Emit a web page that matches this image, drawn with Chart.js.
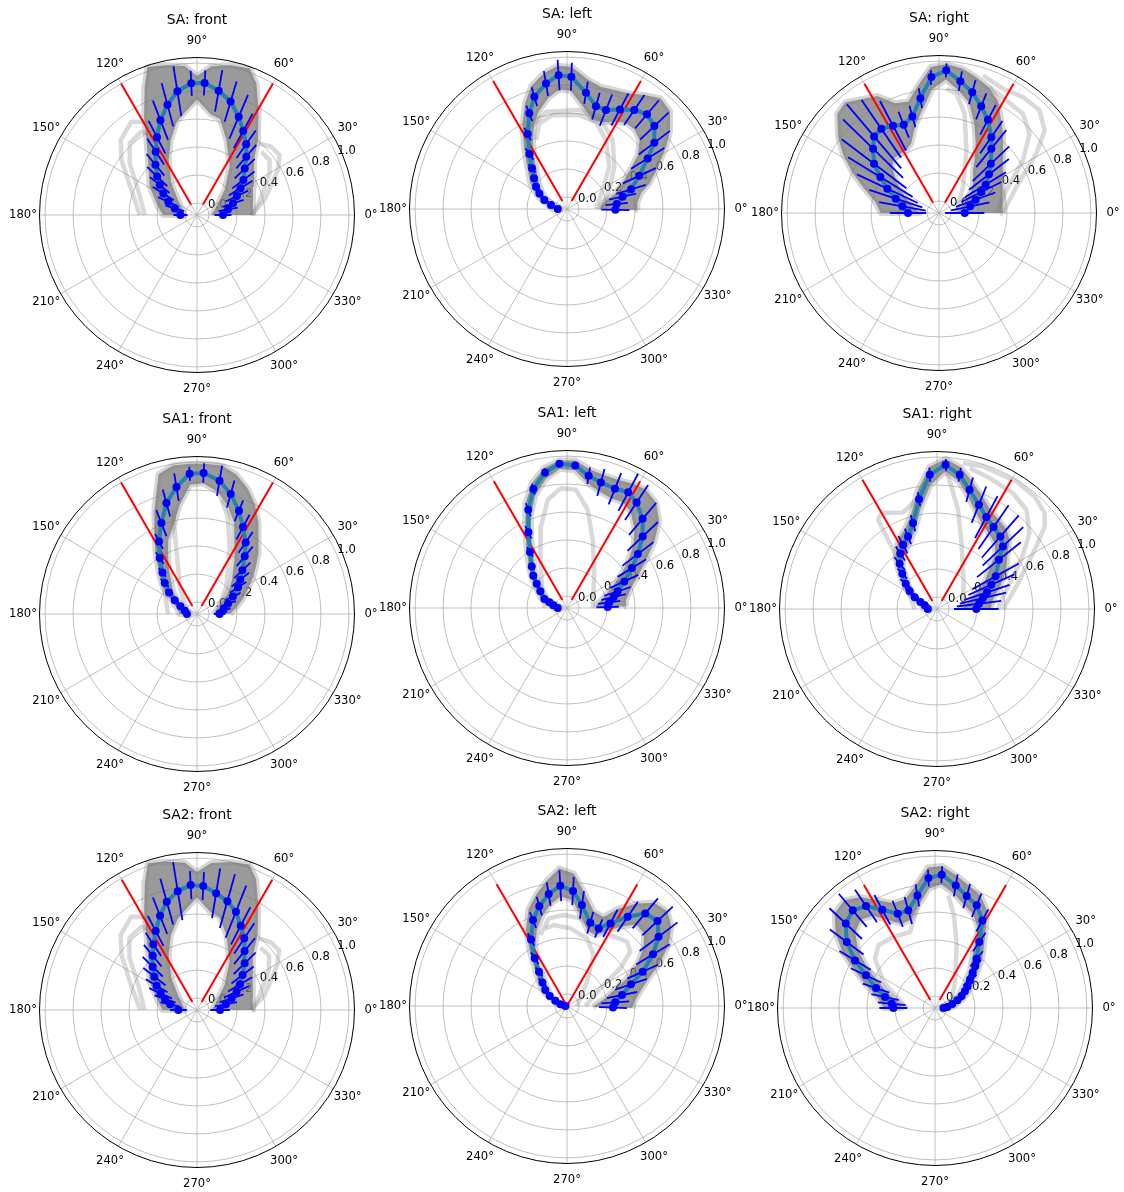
<!DOCTYPE html>
<html><head><meta charset="utf-8">
<script src="https://cdn.jsdelivr.net/npm/chart.js"></script>
<style>
html,body{margin:0;padding:0;background:#fff;overflow:hidden;}
#wrap{position:relative;width:1124px;height:1192px;overflow:hidden;}
canvas{position:absolute;}
</style></head><body><div id="wrap"></div>
<script>
// ---------- axis ticks ----------
const thetaTicks = [0,30,60,90,120,150,180,210,240,270,300,330];
const rTicks = [0,0.2,0.4,0.6,0.8,1.0];
const rTickLabels = ['0.0','0.2','0.4','0.6','0.8','1.0'];
const rLabelAngle = 22.5;
const refAngles = [60,120];
const titles = ['SA: front','SA: left','SA: right','SA1: front','SA1: left','SA1: right','SA2: front','SA2: left','SA2: right'];

// ---------- SA: front ----------
const SA_front_theta = [0,10.4,18,25.4,31.6,37.1,44.2,49.8,55.2,61.2,67,73.5,80.1,86.7,92.5,99,105,111.1,117.2,123.1,129.6,136,141.2,147.5,155.3,163.4,180];
const SA_front_r = [0.10,0.14,0.185,0.23,0.28,0.33,0.39,0.46,0.53,0.60,0.677,0.76,0.815,0.86,0.856,0.81,0.73,0.64,0.54,0.455,0.38,0.31,0.256,0.20,0.14,0.08,0.033];
const SA_front_err = [0.06,0.07,0.08,0.09,0.1,0.1,0.1,0.11,0.12,0.14,0.17,0.15,0.15,0.09,0.09,0.18,0.16,0.15,0.13,0.11,0.1,0.1,0.09,0.09,0.08,0.07,0.05];
const SA_front_outerTheta = [0,26.8,44,50.9,59.6,65.7,70.2,77.1,84.5,90,94.7,102.2,108.5,112.2,118.3,124,131.7,149.1,167.9,180];
const SA_front_outerR = [0.314,0.363,0.48,0.605,0.784,0.946,1.027,1.013,0.983,0.907,0.982,1.01,1.03,0.904,0.712,0.56,0.44,0.308,0.2,0.157];
const SA_front_innerTheta = [0,23.3,42.1,55.9,68.6,76.5,82.1,90,98,102,109.3,117.3,129,141.7,180];
const SA_front_innerR = [0.017,0.065,0.18,0.331,0.49,0.62,0.64,0.74,0.64,0.6,0.482,0.356,0.205,0.087,0.0];
const SA_front_tr1Theta = [0,12.5,29.1,36,42.6,49.3];
const SA_front_tr1R = [0.302,0.409,0.576,0.644,0.635,0.59];
const SA_front_tr2Theta = [0,15.9,29.8,37.1,44.5];
const SA_front_tr2R = [0.314,0.392,0.513,0.565,0.559];
const SA_front_tr3Theta = [180,159.2,144,135.5,125.1,116.9];
const SA_front_tr3R = [0.324,0.416,0.582,0.679,0.73,0.662];
const SA_front_tr4Theta = [180,157,142.5,133.2,123.7,121];
const SA_front_tr4R = [0.288,0.372,0.52,0.617,0.63,0.594];
const SA_front_ref = [0.0,1.0];

// ---------- SA: left ----------
const SA_left_theta = [-1,5.7,12.5,17.1,24.7,32.1,37.2,43.5,49.8,55.8,62,68.5,74.3,80.7,88.1,93.6,99.5,106.2,111.5,117.7,124.4,130.7,137.1,144.2,150.5,158.3,166,180];
const SA_left_r = [0.26,0.271,0.321,0.393,0.483,0.595,0.698,0.775,0.80,0.77,0.72,0.674,0.678,0.756,0.86,0.873,0.824,0.75,0.649,0.519,0.39,0.298,0.236,0.187,0.141,0.089,0.032,-0.02];
const SA_left_err = [0.1,0.08,0.1,0.11,0.13,0.14,0.14,0.14,0.13,0.13,0.13,0.12,0.1,0.08,0.1,0.11,0.09,0.07,0.06,0.05,0.05,0.04,0.03,0.03,0.02,0.02,0.02,0.01];
const SA_left_lo = [0.15,0.16,0.2,0.27,0.35,0.45,0.55,0.63,0.66,0.66,0.62,0.58,0.58,0.65,0.76,0.77,0.72,0.64,0.56,0.44,0.32,0.24,0.19,0.14,0.1,0.05,0.0,-0.04];
const SA_left_hi = [0.42,0.42,0.46,0.53,0.63,0.75,0.84,0.93,0.95,0.9,0.85,0.83,0.82,0.85,0.93,0.94,0.9,0.83,0.73,0.6,0.46,0.36,0.29,0.24,0.19,0.13,0.07,0.02];
const SA_left_tr1Theta = [114.2,107.9,98.7,82.5,71.6,60.5,45,28,0];
const SA_left_tr1R = [0.455,0.557,0.594,0.591,0.571,0.48,0.342,0.203,0.121];
const SA_left_tr2Theta = [113.6,102.2,82.9,70.7,56.5,41.8,24.2,0];
const SA_left_tr2R = [0.556,0.625,0.627,0.613,0.505,0.368,0.246,0.157];
const SA_left_ref = [-0.02,0.97];

// ---------- SA: right ----------
const SA_right_theta = [0,12,20,26.4,31.3,37.7,43.5,50.9,55.4,62.3,68.4,74.6,80.8,87.1,93.2,99.2,105.4,111.8,117.8,124.4,130.3,135.7,142.8,148.5,154.8,161.7,169.7,180];
const SA_right_r = [0.098,0.143,0.193,0.252,0.304,0.366,0.426,0.507,0.573,0.667,0.734,0.81,0.869,0.935,0.887,0.746,0.63,0.594,0.619,0.644,0.632,0.573,0.497,0.406,0.322,0.24,0.18,0.136];
const SA_right_err = [0.14,0.14,0.15,0.16,0.17,0.18,0.18,0.17,0.14,0.12,0.1,0.09,0.07,0.05,0.05,0.07,0.08,0.1,0.2,0.25,0.3,0.3,0.29,0.27,0.24,0.2,0.17,0.13];
const SA_right_lo = [0.05,0.07,0.1,0.13,0.17,0.22,0.25,0.3,0.36,0.48,0.6,0.73,0.8,0.87,0.8,0.66,0.56,0.45,0.42,0.42,0.42,0.38,0.3,0.24,0.18,0.13,0.09,0.05];
const SA_right_hi = [0.37,0.38,0.4,0.42,0.45,0.49,0.55,0.64,0.7,0.82,0.88,0.92,0.96,0.98,0.96,0.84,0.74,0.76,0.86,0.9,0.95,0.93,0.82,0.72,0.6,0.48,0.38,0.33];
const SA_right_tr1Theta = [0,18.6,31.4,38,45.6,54.1,62.8,72.3];
const SA_right_tr1R = [0.371,0.497,0.729,0.873,0.941,0.937,0.913,0.947];
const SA_right_tr2Theta = [0,18.6,32.1,41.2,49.8,59.1,68.1];
const SA_right_tr2R = [0.324,0.422,0.622,0.775,0.844,0.852,0.884];
const SA_right_tr3Theta = [0,47.3,66.4,75.5,81.7,86.6];
const SA_right_tr3R = [0.038,0.167,0.403,0.647,0.776,0.804];
const SA_right_ref = [0.0,0.98];

// ---------- SA1: front ----------
const SA1_front_theta = [0,9.2,18.4,26.1,33,38.4,43.9,50.4,55.8,62.1,67.9,74.3,80.4,87.3,93,99.2,105.4,111.4,117.6,123.7,129.8,136.2,142.3,148.5,155.3,164.9,180];
const SA1_front_r = [0.076,0.107,0.148,0.2,0.264,0.309,0.364,0.449,0.533,0.617,0.711,0.805,0.88,0.923,0.918,0.833,0.737,0.612,0.5,0.395,0.301,0.234,0.167,0.101,0.045,0.005,-0.014];
const SA1_front_err = [0.04,0.05,0.06,0.06,0.07,0.08,0.08,0.09,0.09,0.1,0.08,0.1,0.11,0.07,0.05,0.1,0.1,0.1,0.06,0.05,0.04,0.04,0.03,0.03,0.02,0.02,0.02];
const SA1_front_lo = [0.03,0.05,0.08,0.12,0.17,0.21,0.26,0.32,0.39,0.49,0.62,0.72,0.8,0.85,0.84,0.7,0.56,0.48,0.36,0.27,0.2,0.15,0.1,0.05,0.0,-0.03,-0.04];
const SA1_front_hi = [0.15,0.2,0.26,0.32,0.39,0.45,0.52,0.6,0.7,0.8,0.88,0.95,0.99,0.99,0.99,0.99,0.95,0.74,0.57,0.45,0.35,0.28,0.22,0.15,0.1,0.06,0.04];
const SA1_front_tr1Theta = [180,147,127.6,118.7,111.6];
const SA1_front_tr1R = [0.121,0.19,0.344,0.519,0.716];
const SA1_front_tr2Theta = [0,43.3,63.1,72.4,78];
const SA1_front_tr2R = [0.052,0.202,0.43,0.646,0.749];
const SA1_front_tr3Theta = [158,122,107.8,103];
const SA1_front_tr3R = [-0.004,0.147,0.397,0.679];
const SA1_front_ref = [-0.02,1.0];

// ---------- SA1: left ----------
const SA1_left_theta = [1.4,7.6,13.3,18.2,24.9,31.6,37.3,43.4,49.7,56.6,62.1,68.1,74.9,80.7,86.7,93,99.2,105.8,111.5,117,123.5,130.3,136.2,141.3,148,158.3,162.2,169,180];
const SA1_left_r = [0.205,0.219,0.257,0.295,0.366,0.459,0.551,0.659,0.75,0.818,0.85,0.833,0.844,0.872,0.935,0.947,0.896,0.798,0.669,0.521,0.394,0.304,0.248,0.192,0.139,0.089,0.047,0.014,-0.019];
const SA1_left_err = [0.08,0.08,0.09,0.1,0.11,0.12,0.14,0.15,0.15,0.15,0.15,0.12,0.1,0.06,0.02,0.02,0.03,0.04,0.05,0.05,0.04,0.03,0.03,0.02,0.02,0.02,0.02,0.01,0.01];
const SA1_left_lo = [0.12,0.13,0.17,0.2,0.27,0.37,0.46,0.57,0.66,0.74,0.77,0.76,0.78,0.82,0.9,0.91,0.85,0.75,0.62,0.48,0.35,0.27,0.21,0.16,0.1,0.06,0.02,-0.01,-0.04];
const SA1_left_hi = [0.34,0.34,0.37,0.4,0.48,0.58,0.7,0.82,0.9,0.93,0.92,0.9,0.9,0.92,0.97,0.97,0.93,0.84,0.72,0.57,0.44,0.34,0.28,0.23,0.17,0.12,0.08,0.04,0.01];
const SA1_left_tr1Theta = [0,52,69.4,78.1,85.7,92.9,100.1,107.7,118.9,139.1,180];
const SA1_left_tr1R = [0.098,0.231,0.436,0.632,0.762,0.772,0.7,0.526,0.309,0.15,0.076];
const SA1_left_ref = [-0.02,0.96];

// ---------- SA1: right ----------
const SA1_right_theta = [0,7.2,13.4,18.4,24.1,29.1,38.5,43.5,48.9,55.4,61.8,68.1,74.7,80.4,86.6,93.1,99.3,105.6,111.8,117.9,123.5,129.5,134.5,141,147.1,152.4,157.2,163.4,180];
const SA1_right_r = [0.195,0.217,0.252,0.291,0.34,0.394,0.48,0.564,0.603,0.626,0.66,0.718,0.798,0.887,0.947,0.875,0.71,0.552,0.473,0.434,0.389,0.334,0.268,0.202,0.147,0.094,0.043,0.006,-0.02];
const SA1_right_err = [0.16,0.16,0.17,0.17,0.18,0.19,0.2,0.2,0.2,0.19,0.17,0.14,0.09,0.05,0.04,0.05,0.05,0.06,0.06,0.07,0.06,0.06,0.05,0.05,0.04,0.03,0.03,0.02,0.01];
const SA1_right_lo = [0.1,0.12,0.15,0.19,0.24,0.3,0.4,0.49,0.54,0.57,0.6,0.66,0.75,0.84,0.9,0.8,0.64,0.5,0.43,0.39,0.35,0.3,0.23,0.17,0.12,0.07,0.02,-0.01,-0.04];
const SA1_right_hi = [0.3,0.31,0.34,0.38,0.43,0.48,0.56,0.63,0.67,0.69,0.72,0.78,0.86,0.94,0.99,0.93,0.77,0.61,0.53,0.49,0.44,0.38,0.31,0.24,0.18,0.12,0.07,0.03,0.01];
const SA1_right_tr1Theta = [0,15.9,25.5,32.2,37.5,41.7,49.1,58.1,72.1,79.9];
const SA1_right_tr1R = [0.386,0.504,0.621,0.753,0.884,0.945,0.979,0.988,0.985,0.974];
const SA1_right_tr2Theta = [0,17.7,30.3,39.4,48,56.8,68.1,77];
const SA1_right_tr2R = [0.35,0.447,0.612,0.77,0.869,0.905,0.923,0.948];
const SA1_right_tr3Theta = [0,47.7,70.7,78.1,83.3,86.1];
const SA1_right_tr3R = [0.1,0.197,0.439,0.64,0.796,0.9];
const SA1_right_tr4Theta = [180,143.5,127.7,124.5,123.4,120.1,109.4,100.7,94.7];
const SA1_right_tr4R = [0.074,0.187,0.39,0.573,0.679,0.707,0.646,0.709,0.841];
const SA1_right_ref = [-0.02,0.98];

// ---------- SA2: front ----------
const SA2_front_theta = [0,11.1,18.6,24.8,30.8,37.5,44.4,51.1,56.6,62.6,68.4,74.4,80.7,87.1,92.9,99.2,105.6,111.4,117.6,123.6,129.2,135.7,142,148.9,155.4,161,168.1,180];
const SA2_front_r = [0.079,0.125,0.175,0.226,0.272,0.325,0.391,0.456,0.528,0.593,0.67,0.722,0.759,0.801,0.808,0.775,0.718,0.638,0.551,0.478,0.415,0.357,0.301,0.251,0.2,0.156,0.111,0.048];
const SA2_front_err = [0.07,0.08,0.09,0.1,0.1,0.1,0.11,0.12,0.13,0.15,0.2,0.2,0.18,0.1,0.1,0.21,0.17,0.14,0.12,0.1,0.1,0.1,0.1,0.09,0.09,0.08,0.07,0.06];
const SA2_front_outerTheta = [0,26.8,44,50.9,59.6,65.7,70.2,77.1,84.5,90,94.7,102.2,108.5,112.2,118.3,124,131.7,149.1,167.9,180];
const SA2_front_outerR = [0.31,0.36,0.47,0.6,0.78,0.94,1.02,1.0,0.97,0.9,0.97,1.0,1.02,0.9,0.71,0.56,0.44,0.31,0.2,0.16];
const SA2_front_innerTheta = [0,23.3,42.1,55.9,68.6,76.5,82.1,90,98,102,109.3,117.3,129,141.7,180];
const SA2_front_innerR = [0.02,0.065,0.18,0.33,0.49,0.6,0.62,0.72,0.62,0.58,0.48,0.356,0.205,0.087,0.0];
const SA2_front_tr1Theta = [0,12.5,29.1,36,42.6,49.3];
const SA2_front_tr1R = [0.3,0.41,0.57,0.64,0.63,0.59];
const SA2_front_tr2Theta = [0,15.9,29.8,37.1,44.5];
const SA2_front_tr2R = [0.31,0.39,0.51,0.56,0.55];
const SA2_front_tr3Theta = [180,159.2,144,135.5,125.1,116.9];
const SA2_front_tr3R = [0.32,0.42,0.58,0.68,0.73,0.66];
const SA2_front_tr4Theta = [180,157,142.5,133.2,123.7,121];
const SA2_front_tr4R = [0.29,0.37,0.52,0.62,0.63,0.59];
const SA2_front_ref = [-0.02,0.99];

// ---------- SA2: left ----------
const SA2_left_theta = [-2,4.3,11.3,18.7,24.4,31,37.1,43.2,49.8,55.8,62.3,67.8,74.4,81.6,87,93.2,99.3,105.5,111.6,118.4,124.1,129.2,136.2,143.6,150,155.4,166,180];
const SA2_left_r = [0.243,0.26,0.315,0.397,0.508,0.631,0.735,0.802,0.781,0.686,0.581,0.513,0.532,0.644,0.737,0.775,0.725,0.655,0.575,0.455,0.326,0.231,0.158,0.107,0.057,0.006,-0.037,-0.074];
const SA2_left_err = [0.1,0.1,0.11,0.12,0.12,0.14,0.17,0.15,0.14,0.13,0.11,0.07,0.08,0.1,0.1,0.11,0.085,0.07,0.06,0.05,0.05,0.04,0.04,0.03,0.03,0.02,0.02,0.01];
const SA2_left_lo = [0.1,0.13,0.19,0.27,0.38,0.5,0.6,0.67,0.68,0.6,0.52,0.46,0.47,0.57,0.67,0.7,0.65,0.58,0.5,0.39,0.27,0.18,0.11,0.06,0.02,-0.02,-0.06,-0.085];
const SA2_left_hi = [0.38,0.4,0.45,0.53,0.64,0.76,0.85,0.9,0.88,0.8,0.7,0.6,0.62,0.74,0.86,0.9,0.82,0.74,0.66,0.53,0.39,0.29,0.21,0.15,0.1,0.05,0.0,-0.05];
const SA2_left_tr1Theta = [0,27.9,35.2,40.6,47,58.6,71.1,81.4,92.1,101.8,110.6];
const SA2_left_tr1R = [0.045,0.184,0.381,0.51,0.543,0.508,0.501,0.548,0.565,0.554,0.456];
const SA2_left_tr2Theta = [0,50.6,62.4,73.5,87.5,99.3,105.6];
const SA2_left_tr2R = [-0.014,0.139,0.325,0.418,0.47,0.5,0.49];
const SA2_left_ref = [-0.07,0.92];

// ---------- SA2: right ----------
const SA2_right_theta = [0,4.6,13,18.9,24.2,29.1,34.2,38.3,43.2,46.2,49.8,56.1,61.6,67.9,74.2,80.4,87.1,92.9,98.9,105.3,111.6,118.2,124.1,130.1,136.6,143.2,149.2,154.7,161.3,167.6,174.3,180];
const SA2_right_r = [-0.025,0.003,0.041,0.083,0.123,0.159,0.194,0.233,0.283,0.33,0.375,0.482,0.626,0.706,0.746,0.803,0.868,0.844,0.729,0.637,0.639,0.711,0.794,0.827,0.792,0.702,0.579,0.46,0.359,0.28,0.225,0.212];
const SA2_right_err = [0.02,0.02,0.03,0.04,0.04,0.05,0.05,0.06,0.06,0.06,0.07,0.08,0.09,0.09,0.09,0.08,0.06,0.06,0.08,0.1,0.1,0.12,0.14,0.155,0.16,0.15,0.13,0.12,0.1,0.1,0.1,0.1];
const SA2_right_lo = [-0.06,-0.04,0.0,0.04,0.08,0.11,0.14,0.18,0.22,0.27,0.31,0.41,0.56,0.64,0.68,0.74,0.8,0.77,0.66,0.57,0.56,0.63,0.71,0.74,0.7,0.6,0.48,0.37,0.28,0.21,0.16,0.15];
const SA2_right_hi = [0.02,0.05,0.09,0.13,0.17,0.21,0.25,0.29,0.35,0.4,0.45,0.56,0.7,0.78,0.82,0.87,0.93,0.92,0.8,0.72,0.72,0.79,0.87,0.92,0.9,0.8,0.68,0.55,0.44,0.35,0.3,0.28];
const SA2_right_tr1Theta = [180,153.3,140.6,132.1,120.4,108.2,102.2,97.6];
const SA2_right_tr1R = [0.117,0.327,0.469,0.518,0.502,0.486,0.591,0.726];
const SA2_right_tr2Theta = [0,52.4,70.9,78.4,83.3];
const SA2_right_tr2R = [0.021,0.149,0.388,0.59,0.725];
const SA2_right_ref = [-0.02,0.93];

// ---------- layout / geometry (not data) ----------
const RAD_MIN = -0.0857, RAD_MAX = 1.04;
const RHO_MAX = RAD_MAX - RAD_MIN;
const PANEL_R = 157.5;
const CW = 400, CH = 420;
const panelCenters = [[197,215],[567,209],[939,213],[197,614],[567,608],[937,609],[197,1010],[567,1006],[935,1008]];

const panels = [
  {t:SA_front_theta, r:SA_front_r, err:SA_front_err, hi:[SA_front_outerTheta,SA_front_outerR], lo:[SA_front_innerTheta,SA_front_innerR],
   traces:[[SA_front_tr1Theta,SA_front_tr1R],[SA_front_tr2Theta,SA_front_tr2R],[SA_front_tr3Theta,SA_front_tr3R],[SA_front_tr4Theta,SA_front_tr4R]], ref:SA_front_ref},
  {t:SA_left_theta, r:SA_left_r, err:SA_left_err, hi:[SA_left_theta,SA_left_hi], lo:[SA_left_theta,SA_left_lo],
   traces:[[SA_left_tr1Theta,SA_left_tr1R],[SA_left_tr2Theta,SA_left_tr2R]], ref:SA_left_ref},
  {t:SA_right_theta, r:SA_right_r, err:SA_right_err, hi:[SA_right_theta,SA_right_hi], lo:[SA_right_theta,SA_right_lo],
   traces:[[SA_right_tr1Theta,SA_right_tr1R],[SA_right_tr2Theta,SA_right_tr2R],[SA_right_tr3Theta,SA_right_tr3R]], ref:SA_right_ref},
  {t:SA1_front_theta, r:SA1_front_r, err:SA1_front_err, hi:[SA1_front_theta,SA1_front_hi], lo:[SA1_front_theta,SA1_front_lo],
   traces:[[SA1_front_tr1Theta,SA1_front_tr1R],[SA1_front_tr2Theta,SA1_front_tr2R],[SA1_front_tr3Theta,SA1_front_tr3R]], ref:SA1_front_ref},
  {t:SA1_left_theta, r:SA1_left_r, err:SA1_left_err, hi:[SA1_left_theta,SA1_left_hi], lo:[SA1_left_theta,SA1_left_lo],
   traces:[[SA1_left_tr1Theta,SA1_left_tr1R]], ref:SA1_left_ref},
  {t:SA1_right_theta, r:SA1_right_r, err:SA1_right_err, hi:[SA1_right_theta,SA1_right_hi], lo:[SA1_right_theta,SA1_right_lo],
   traces:[[SA1_right_tr1Theta,SA1_right_tr1R],[SA1_right_tr2Theta,SA1_right_tr2R],[SA1_right_tr3Theta,SA1_right_tr3R],[SA1_right_tr4Theta,SA1_right_tr4R]], ref:SA1_right_ref},
  {t:SA2_front_theta, r:SA2_front_r, err:SA2_front_err, hi:[SA2_front_outerTheta,SA2_front_outerR], lo:[SA2_front_innerTheta,SA2_front_innerR],
   traces:[[SA2_front_tr1Theta,SA2_front_tr1R],[SA2_front_tr2Theta,SA2_front_tr2R],[SA2_front_tr3Theta,SA2_front_tr3R],[SA2_front_tr4Theta,SA2_front_tr4R]], ref:SA2_front_ref},
  {t:SA2_left_theta, r:SA2_left_r, err:SA2_left_err, hi:[SA2_left_theta,SA2_left_hi], lo:[SA2_left_theta,SA2_left_lo],
   traces:[[SA2_left_tr1Theta,SA2_left_tr1R],[SA2_left_tr2Theta,SA2_left_tr2R]], ref:SA2_left_ref},
  {t:SA2_right_theta, r:SA2_right_r, err:SA2_right_err, hi:[SA2_right_theta,SA2_right_hi], lo:[SA2_right_theta,SA2_right_lo],
   traces:[[SA2_right_tr1Theta,SA2_right_tr1R],[SA2_right_tr2Theta,SA2_right_tr2R]], ref:SA2_right_ref}
];

// polar (theta deg, r) -> cartesian value space of the chart's linear scales
function pt(t, r) {
  const a = t * Math.PI / 180, rho = Math.max(r - RAD_MIN, 0);
  return {x: rho * Math.cos(a), y: rho * Math.sin(a)};
}
function poly(ts, rs) { return ts.map((t, i) => pt(t, rs[i])); }

const polarDecor = {
  id: 'polarDecor',
  beforeDatasetsDraw(chart) {
    const ctx = chart.ctx, xs = chart.scales.x, ys = chart.scales.y;
    const cx = xs.getPixelForValue(0), cy = ys.getPixelForValue(0);
    const k = xs.getPixelForValue(1) - cx;
    const R = RHO_MAX * k;
    ctx.save();
    ctx.strokeStyle = '#b0b0b0'; ctx.lineWidth = 0.8;
    for (const r of rTicks) { ctx.beginPath(); ctx.arc(cx, cy, (r - RAD_MIN) * k, 0, Math.PI * 2); ctx.stroke(); }
    for (const t of thetaTicks) {
      const a = t * Math.PI / 180;
      ctx.beginPath(); ctx.moveTo(cx, cy); ctx.lineTo(cx + R * Math.cos(a), cy - R * Math.sin(a)); ctx.stroke();
    }
    ctx.fillStyle = '#000'; ctx.font = '11.6px "DejaVu Sans", sans-serif';
    ctx.textAlign = 'left'; ctx.textBaseline = 'bottom';
    const la = rLabelAngle * Math.PI / 180;
    rTicks.forEach((r, i) => {
      const d = (r - RAD_MIN) * k;
      ctx.fillText(rTickLabels[i], cx + d * Math.cos(la), cy - d * Math.sin(la));
    });
    ctx.restore();
  },
  afterDatasetsDraw(chart, args, opts) {
    const ctx = chart.ctx, xs = chart.scales.x, ys = chart.scales.y;
    const cx = xs.getPixelForValue(0), cy = ys.getPixelForValue(0);
    const k = xs.getPixelForValue(1) - cx;
    const R = RHO_MAX * k;
    ctx.save();
    ctx.strokeStyle = '#000'; ctx.lineWidth = 1;
    ctx.beginPath(); ctx.arc(cx, cy, R, 0, Math.PI * 2); ctx.stroke();
    ctx.fillStyle = '#000'; ctx.font = '11.6px "DejaVu Sans", sans-serif';
    ctx.textAlign = 'center'; ctx.textBaseline = 'middle';
    for (const t of thetaTicks) {
      const a = t * Math.PI / 180, d = R + 16.5;
      ctx.fillText(t + '°', cx + d * Math.cos(a), cy - d * Math.sin(a));
    }
    ctx.font = '13.9px "DejaVu Sans", sans-serif';
    ctx.fillText(opts.title, cx, cy - 195);
    ctx.restore();
  }
};

const wrap = document.getElementById('wrap');
panels.forEach((p, idx) => {
  const [cx, cy] = panelCenters[idx];
  const cv = document.createElement('canvas');
  cv.width = CW; cv.height = CH;
  cv.style.left = (cx - CW / 2) + 'px'; cv.style.top = (cy - CH / 2) + 'px';
  cv.style.width = CW + 'px'; cv.style.height = CH + 'px';
  wrap.appendChild(cv);

  const ds = [];
  // markers (top-most)
  ds.push({data: poly(p.t, p.r), showLine: false, pointRadius: 4, pointBackgroundColor: '#0000ff', pointBorderWidth: 0, order: 0});
  // radial error bars
  const eb = [];
  p.t.forEach((t, i) => { eb.push(pt(t, p.r[i] - p.err[i]), pt(t, p.r[i] + p.err[i]), {x: NaN, y: NaN}); });
  ds.push({data: eb, showLine: true, spanGaps: false, borderColor: '#0000ff', borderWidth: 1.8, pointRadius: 0, order: 1});
  // mean line
  ds.push({data: poly(p.t, p.r), showLine: true, borderColor: '#2082b0', borderWidth: 4, borderJoinStyle: 'round', pointRadius: 0, order: 2});
  // reference lines
  refAngles.forEach(a => ds.push({data: poly([a, a], p.ref), showLine: true, borderColor: '#ff0000', borderWidth: 2, pointRadius: 0, order: 3}));
  // gray band of individual traces
  const band = poly(p.hi[0], p.hi[1]).concat(poly(p.lo[0], p.lo[1]).reverse());
  ds.push({data: band, showLine: true, fill: 'shape', backgroundColor: 'rgba(122,122,122,0.76)', borderColor: 'rgba(128,128,128,0.32)', borderWidth: 6, borderJoinStyle: 'round', pointRadius: 0, order: 5});
  // lighter individual traces
  p.traces.forEach(tr => ds.push({data: poly(tr[0], tr[1]), showLine: true, fill: false, borderColor: 'rgba(128,128,128,0.3)', borderWidth: 4.5, borderJoinStyle: 'round', pointRadius: 0, order: 6}));

  new Chart(cv, {
    type: 'scatter',
    data: {datasets: ds},
    options: {
      responsive: false, animation: false, events: [],
      layout: {padding: {left: CW / 2 - PANEL_R, right: CW / 2 - PANEL_R, top: CH / 2 - PANEL_R, bottom: CH / 2 - PANEL_R}},
      scales: {
        x: {type: 'linear', min: -RHO_MAX, max: RHO_MAX, display: false},
        y: {type: 'linear', min: -RHO_MAX, max: RHO_MAX, display: false}
      },
      plugins: {legend: {display: false}, tooltip: {enabled: false}, polarDecor: {title: titles[idx]}}
    },
    plugins: [polarDecor]
  });
});
</script></body></html>
